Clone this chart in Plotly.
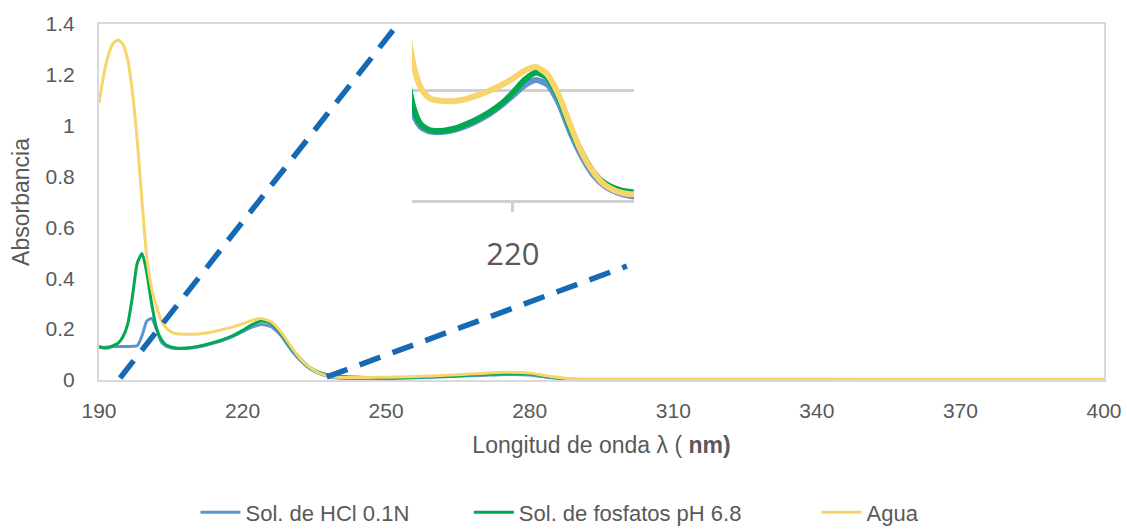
import plotly.graph_objects as go

# Wavelength grid (nm) and absorbance of each solution
wavelength_nm = [190, 191, 192, 193, 194, 195, 196, 197, 198, 199, 200, 201, 202, 203,
                 204, 205, 206, 208, 210, 212, 214, 216, 218, 220, 222, 224, 226, 228,
                 230, 232, 234, 236, 238, 240, 243, 246, 250, 255, 260, 265, 270, 275,
                 280, 284, 288, 292, 300, 320, 350, 380, 400]

hcl_abs = [0.131, 0.128, 0.130, 0.132, 0.132, 0.132, 0.132, 0.133, 0.135, 0.175, 0.232,
           0.242, 0.200, 0.150, 0.133, 0.127, 0.124, 0.124, 0.128, 0.135, 0.145, 0.157,
           0.172, 0.190, 0.208, 0.218, 0.210, 0.175, 0.122, 0.078, 0.045, 0.025, 0.014,
           0.008, 0.005, 0.004, 0.005, 0.008, 0.011, 0.015, 0.018, 0.022, 0.020, 0.010,
           0.003, 0.002, 0.002, 0.002, 0.002, 0.002, 0.002]

fosfato_abs = [0.131, 0.126, 0.127, 0.135, 0.145, 0.170, 0.220, 0.330, 0.460, 0.497, 0.420,
               0.300, 0.205, 0.160, 0.138, 0.130, 0.126, 0.126, 0.130, 0.138, 0.148, 0.160,
               0.175, 0.195, 0.218, 0.232, 0.222, 0.185, 0.130, 0.085, 0.050, 0.030, 0.020,
               0.015, 0.012, 0.010, 0.008, 0.010, 0.013, 0.017, 0.022, 0.026, 0.024, 0.013,
               0.004, 0.002, 0.002, 0.002, 0.002, 0.002, 0.002]

agua_abs = [1.090, 1.200, 1.280, 1.325, 1.337, 1.320, 1.260, 1.130, 0.940, 0.700, 0.480,
            0.360, 0.290, 0.235, 0.205, 0.190, 0.183, 0.180, 0.180, 0.184, 0.191, 0.199,
            0.209, 0.221, 0.235, 0.242, 0.228, 0.190, 0.135, 0.085, 0.050, 0.027, 0.016,
            0.011, 0.010, 0.010, 0.011, 0.013, 0.016, 0.021, 0.026, 0.030, 0.027, 0.015,
            0.006, 0.004, 0.004, 0.004, 0.003, 0.003, 0.003]

series_names = ["Sol. de HCl 0.1N", "Sol. de fosfatos pH 6.8", "Agua"]
series_values = [hcl_abs, fosfato_abs, agua_abs]
series_colors = ["#5e93d2", "#00a84f", "#f8d46c"]

x_ticks = [190, 220, 250, 280, 310, 340, 370, 400]
y_ticks = [0, 0.2, 0.4, 0.6, 0.8, 1.0, 1.2, 1.4]
y_tick_labels = ["0", "0.2", "0.4", "0.6", "0.8", "1", "1.2", "1.4"]

# Magnified view of the 220 nm band
inset_x_range = [202.5, 241.0]
inset_y_range = [0, 0.32]
inset_ticks = [220]
inset_grid = [0.2]

# Dashed guide lines from the main curve to the magnified view (nm, absorbance)
guide_lines = [((194.4, 0.008), (252.3, 1.396)),
               ((237.6, 0.012), (300.3, 0.448))]

# Left edge of each legend entry (paper fraction) and the legend it belongs to
legend_ids = ["legend", "legend2", "legend3"]
legend_x = [0.096, 0.368, 0.714]

TEXT = "#595959"
FONT = "Liberation Sans, Arial, sans-serif"

fig = go.Figure()

for name, vals, col, lg in zip(series_names, series_values, series_colors, legend_ids):
    fig.add_trace(go.Scatter(
        x=wavelength_nm, y=vals, name=name, mode="lines", legend=lg,
        line=dict(color=col, width=3, shape="spline", smoothing=0.6),
        xaxis="x", yaxis="y", hoverinfo="skip"))

for name, vals, col in zip(series_names, series_values, series_colors):
    fig.add_trace(go.Scatter(
        x=wavelength_nm, y=vals, name=name, mode="lines", showlegend=False,
        line=dict(color=col, width=6, shape="spline", smoothing=0.6),
        xaxis="x2", yaxis="y2", hoverinfo="skip"))

for (x0, y0), (x1, y1) in guide_lines:
    fig.add_shape(type="line", xref="x", yref="y", x0=x0, y0=y0, x1=x1, y1=y1,
                  line=dict(color="#1669b5", width=5.5, dash="22px,13px"))

legend_style = dict(orientation="h", xanchor="left", y=-0.372, yanchor="middle",
                    font=dict(size=22, color=TEXT), itemwidth=40,
                    bgcolor="rgba(0,0,0,0)")
legends = {lg: dict(legend_style, x=lx) for lg, lx in zip(legend_ids, legend_x)}

fig.update_layout(
    width=1127, height=529,
    margin=dict(l=99, r=23, t=24, b=149, autoexpand=False),
    paper_bgcolor="white", plot_bgcolor="white",
    font=dict(family=FONT, color=TEXT, size=21),
    showlegend=True,
    **legends,
    xaxis=dict(domain=[0, 1], range=[190, 400], tickvals=x_ticks,
               showgrid=False, zeroline=False, showline=True, mirror=True,
               linecolor="#d9d9d9", linewidth=2, ticks="", ticklabelstandoff=11,
               tickfont=dict(size=21, color=TEXT),
               title=dict(text="Longitud de onda λ ( <b>nm)</b>", standoff=16,
                          font=dict(size=23, color=TEXT))),
    yaxis=dict(domain=[0, 1], range=[0, 1.4], tickvals=y_ticks, ticktext=y_tick_labels,
               showgrid=False, zeroline=False, showline=True, mirror=True,
               linecolor="#d9d9d9", linewidth=2, ticks="", ticklabelstandoff=18,
               tickfont=dict(size=21, color=TEXT),
               title=dict(text="Absorbancia", standoff=10,
                          font=dict(size=23, color=TEXT))),
    xaxis2=dict(domain=[0.3114, 0.5323], range=inset_x_range, anchor="y2",
                tickvals=inset_ticks, ticks="outside", ticklen=9, tickwidth=2.5,
                tickcolor="#d0d0d0", showline=True, linecolor="#d0d0d0", linewidth=2.5,
                showgrid=False, zeroline=False, ticklabelstandoff=16,
                tickfont=dict(family="Open Sans, sans-serif", size=31, color=TEXT)),
    yaxis2=dict(domain=[0.5056, 1.0], range=inset_y_range, anchor="x2",
                tickvals=inset_grid, showticklabels=False, showgrid=True,
                gridcolor="#d0d0d0", gridwidth=2.5, zeroline=False, showline=False),
)

fig.write_html("out.html")
